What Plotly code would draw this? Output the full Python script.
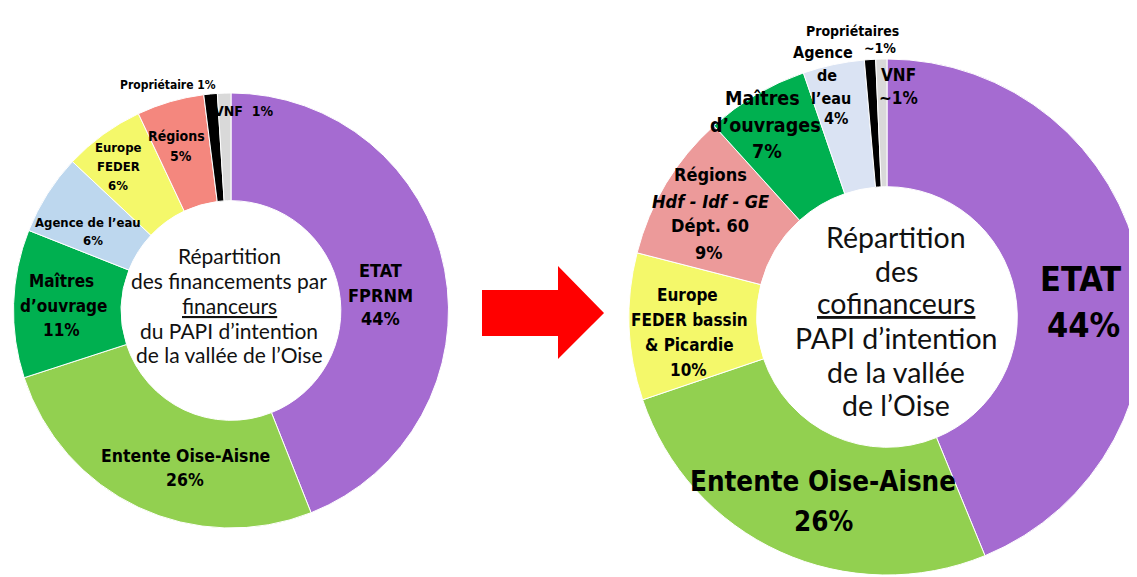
import plotly.graph_objects as go

W, H = 1137, 577

# data
left_labels = ["ETAT FPRNM", "Entente Oise-Aisne", "Maîtres d'ouvrage", "Agence de l'eau",
               "Europe FEDER", "Régions", "Propriétaire", "VNF"]
left_values = [44, 26, 11, 6, 6, 5, 1, 1]
left_colors = ["#A56BD1", "#92D050", "#00B050", "#BDD7EE", "#F4F86A", "#F4877E", "#000000", "#D9D9D9"]

right_labels = ["ETAT", "Entente Oise-Aisne", "Europe FEDER bassin & Picardie",
                "Régions Hdf - Idf - GE, Dépt. 60", "Maîtres d'ouvrages", "Agence de l'eau",
                "Propriétaires", "VNF"]
right_values = [43.8, 26, 9.2, 9.3, 6.45, 3.85, 0.7, 0.7]
right_colors = ["#A56BD1", "#92D050", "#F4F86A", "#EC9A9A", "#00B050", "#DAE3F3", "#000000", "#D9D9D9"]

left_text = [["ETAT", "FPRNM", "44%"], ["Entente Oise-Aisne", "26%"],
             ["Maîtres", "d’ouvrage", "11%"], ["Agence de l’eau", "6%"],
             ["Europe", "FEDER", "6%"], ["Régions", "5%"],
             ["Propriétaire 1%"], ["VNF  1%"]]
right_text = [["ETAT", "44%"], ["Entente Oise-Aisne", "26%"],
              ["Europe", "FEDER bassin", "& Picardie", "10%"],
              ["Régions", "<i>Hdf - Idf - GE</i>", "Dépt. 60", "9%"],
              ["Maîtres", "d’ouvrages", "7%"], ["Agence", "de", "l’eau", "4%"],
              ["Propriétaires", "~1%"], ["VNF", "~1%"]]

left_title = ["Répartition", "des financements par", "<u>financeurs</u>",
              "du PAPI d’intention", "de la vallée de l’Oise"]
right_title = ["Répartition", "des", "<u>cofinanceurs</u>", "PAPI d’intention",
               "de la vallée", "de l’Oise"]

LABEL_FONT = "DejaVu Sans Condensed, sans-serif"
TITLE_FONT = "Lato, sans-serif"

# label layout: font size and pixel centre of each line
left_layout = [
    (18, [(372, 263), (372, 287), (372, 310)]),
    (17.5, [(178, 448), (177, 472)]),
    (17, [(54, 273), (55, 298), (54, 322)]),
    (13, [(80, 215), (85, 233)]),
    (13, [(110, 140), (110, 158), (110, 177)]),
    (14, [(168, 128), (173, 148)]),
    (12, [(160, 77)]),
    (14, [(235, 103)]),
]
right_layout = [
    (34, [(1072, 271), (1075, 317)]),
    (27.5, [(815, 473), (815, 513)]),
    (17, [(679, 287), (681, 312), (681, 337), (680, 362)]),
    (18, [(702, 166), (702, 193), (702, 218), (701, 244)]),
    (19.5, [(754, 90), (757, 117), (759, 143)]),
    (16, [(815, 44), (819, 67), (823, 90), (828, 111)]),
    (14, [(844, 23), (872, 40)]),
    (17, [(890, 67), (890, 90)]),
]
left_title_pos = (21, 221, [248, 272, 297, 322, 346])
right_title_pos = (28.5, 888, [229, 263, 295, 330, 364, 397])


def px(x):
    return x / W


def py(y):
    return 1 - y / H


def note(text, x, y, family, size, color="black"):
    return dict(x=px(x), y=py(y), text=text, showarrow=False, xref="paper", yref="paper",
                xanchor="center", yanchor="middle",
                font=dict(family=family, size=size, color=color))


fig = go.Figure()

fig.add_trace(go.Pie(
    labels=left_labels, values=left_values, hole=0.505, sort=False, direction="clockwise",
    rotation=0, textinfo="none", hoverinfo="label+percent",
    marker=dict(colors=left_colors, line=dict(color="white", width=1)),
    domain=dict(x=[px(5), px(441)], y=[py(520), py(85)]), showlegend=False,
))
fig.add_trace(go.Pie(
    labels=right_labels, values=right_values, hole=0.505, sort=False, direction="clockwise",
    rotation=0, textinfo="none", hoverinfo="label+percent",
    marker=dict(colors=right_colors, line=dict(color="white", width=1)),
    domain=dict(x=[px(621), 1.0], y=[py(569), py(49)]), showlegend=False,
))

annotations = []
for lines, (size, spots) in zip(left_text + right_text, left_layout + right_layout):
    for line, (x, y) in zip(lines, spots):
        annotations.append(note("<b>" + line + "</b>", x, y, LABEL_FONT, size))

for lines, (size, x, ys) in [(left_title, left_title_pos), (right_title, right_title_pos)]:
    for line, y in zip(lines, ys):
        annotations.append(note(line, x, y, TITLE_FONT, size, "#111111"))

# red block arrow between the two donuts
arrow = [(474, 282), (550, 282), (550, 258), (596, 305), (550, 351), (550, 328), (474, 328)]
path = "M " + " L ".join(f"{px(x):.5f},{py(y):.5f}" for x, y in arrow) + " Z"

fig.update_layout(
    width=W, height=H,
    margin=dict(l=0, r=0, t=0, b=0),
    paper_bgcolor="white",
    plot_bgcolor="white",
    annotations=annotations,
    shapes=[dict(type="path", path=path, xref="paper", yref="paper",
                 fillcolor="#FF0000", line=dict(width=0))],
)

fig.write_html("out.html")
